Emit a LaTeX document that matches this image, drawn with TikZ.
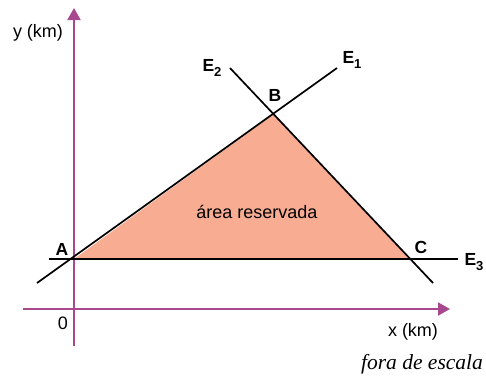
\documentclass[tikz,border=0pt]{standalone}
\usepackage{fontspec}
\setmainfont{Liberation Sans}
\newfontfamily\serifit{Liberation Serif}
\usetikzlibrary{arrows.meta}
\definecolor{axiscol}{RGB}{168,72,142}
\definecolor{areacol}{RGB}{248,172,146}
\newcommand{\mysub}[1]{\raisebox{-0.45ex}{\fontsize{13}{13}\selectfont\bfseries #1}}
\begin{document}
\begin{tikzpicture}[x=1pt,y=-1pt,
  axisline/.style={draw=axiscol,line width=2pt,-{Triangle[length=12pt,width=13pt]}},
  eline/.style={draw=black,line width=1.7pt},
  lbl/.style={font=\fontsize{18}{21}\selectfont},
  blbl/.style={font=\fontsize{17.5}{21}\selectfont\bfseries}]
\useasboundingbox (0,0) rectangle (486,376);
% points
\coordinate (A) at (74,259);
\coordinate (B) at (274,114);
\coordinate (C) at (410,259);
\coordinate (E1lo) at (37,283);
\coordinate (E1hi) at (337,68);
\coordinate (E2hi) at (230,68);
\coordinate (E2lo) at (433,283);
\coordinate (E3l) at (49,259);
\coordinate (E3r) at (458,259);
\coordinate (xs) at (23,309);
\coordinate (xe) at (450,309);
\coordinate (ys) at (74,346);
\coordinate (ye) at (74,8);
% area
\fill[areacol] (A) -- (B) -- (C) -- cycle;
% axes
\draw[axisline] (xs) -- (xe);
\draw[axisline] (ys) -- (ye);
% lines
\draw[eline] (E1lo) -- (E1hi);
\draw[eline] (E2hi) -- (E2lo);
\draw[eline] (E3l) -- (E3r);
% labels
\node[lbl] (ylab) at (38,33) {y (km)};
\node[lbl] (xlab) at (413,332) {x (km)};
\node[lbl] (zero) at (63,323) {0};
\node[blbl] (Alab) at (62,249) {A};
\node[blbl] (Blab) at (275,95) {B};
\node[blbl] (Clab) at (421,247) {C};
\node[blbl] (E1lab) at (352,60) {E\mysub{1}};
\node[blbl] (E2lab) at (212,68) {E\mysub{2}};
\node[blbl] (E3lab) at (474,262) {E\mysub{3}};
\node[lbl] (area) at (257,212) {área reservada};
\node[font=\fontsize{21.5}{24}\selectfont\serifit\itshape] (scale) at (422,364) {fora de escala};
\end{tikzpicture}
\end{document}
